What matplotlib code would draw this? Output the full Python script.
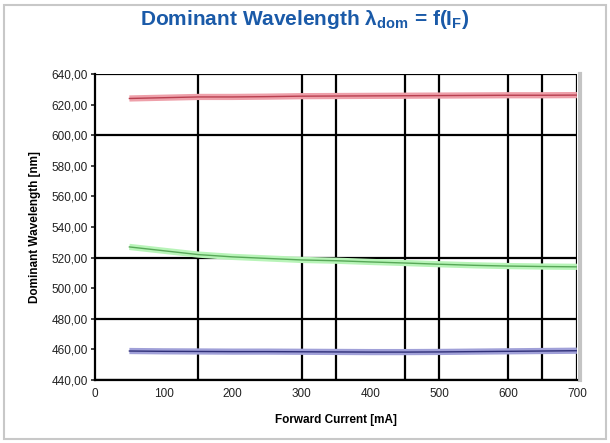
import matplotlib
matplotlib.use('Agg')
import matplotlib.pyplot as plt
from matplotlib.patches import Rectangle
from matplotlib.ticker import FuncFormatter

current = [50, 100, 150, 200, 250, 300, 350, 400, 450, 500, 550, 600, 650, 700]
red = [624.0, 624.5, 625.0, 625.0, 625.2, 625.5, 625.6, 625.7, 625.8, 625.9, 626.0, 626.1, 626.1, 626.2]
green = [527.0, 524.5, 522.0, 520.5, 519.5, 518.5, 518.0, 517.2, 516.5, 515.7, 515.0, 514.5, 514.2, 514.0]
blue = [459.0, 458.8, 458.7, 458.6, 458.6, 458.5, 458.4, 458.3, 458.3, 458.4, 458.6, 458.8, 459.0, 459.2]

xgrid = [150, 300, 350, 450, 500, 600, 650, 700]
ygrid = [440, 480, 520, 600, 640]

plt.rcParams['font.family'] = ['Liberation Sans', 'DejaVu Sans']
plt.rcParams['mathtext.fontset'] = 'custom'
plt.rcParams['mathtext.bf'] = 'Liberation Sans:bold'
plt.rcParams['mathtext.rm'] = 'Liberation Sans:bold'

fig = plt.figure(figsize=(6.1, 4.43), dpi=100)
fig.patches.append(Rectangle((0.006, 0.008), 0.988, 0.98, transform=fig.transFigure,
                             fill=False, edgecolor='#c8c8c8', lw=1.5))
ax = fig.add_axes([0.1557, 0.142, 0.790, 0.691])

series = [(red, '#eea0aa', '#b84050'), (green, '#b8f4b8', '#58a858'), (blue, '#a0a0d8', '#303078')]
for vals, halo, core in series:
    ax.plot(current, vals, color=halo, lw=4.5, solid_capstyle='butt', zorder=2)
    ax.plot(current, vals, color=core, lw=1.0, zorder=3)

for x in xgrid:
    ax.axvline(x, color='black', lw=1.6, zorder=1)
for y in ygrid:
    ax.axhline(y, color='black', lw=1.6, zorder=1)

ax.set_xlim(0, 700)
ax.set_ylim(440, 640)
ax.set_xticks(range(0, 701, 100))
ax.set_yticks(range(440, 641, 20))
ax.yaxis.set_major_formatter(FuncFormatter(lambda v, p: f"{v:.2f}".replace('.', ',')))
ax.tick_params(axis='both', labelsize=8.5, colors='#222222')
ax.tick_params(axis='x', length=0, pad=6)
ax.tick_params(axis='y', length=3, width=1.2, direction='out', pad=2)
ax.spines['top'].set_visible(False)
ax.spines['right'].set_color('#c4c4c4')
ax.spines['right'].set_linewidth(3)
ax.spines['right'].set_position(('outward', 2))
ax.spines['left'].set_linewidth(1.6)
ax.spines['bottom'].set_linewidth(1.6)

ax.set_xlabel('Forward Current [mA]', fontsize=8.5, fontweight='bold', labelpad=10)
ax.set_ylabel('Dominant Wavelength [nm]', fontsize=8.5, fontweight='bold', labelpad=8)

fig.text(0.5, 0.955, 'Dominant Wavelength λ$_{\\mathrm{dom}}$ = f(I$_{\\mathrm{F}}$)',
         ha='center', va='center', fontsize=15, fontweight='bold', color='#1a5aa8')

fig.savefig('out.png', dpi=100)
